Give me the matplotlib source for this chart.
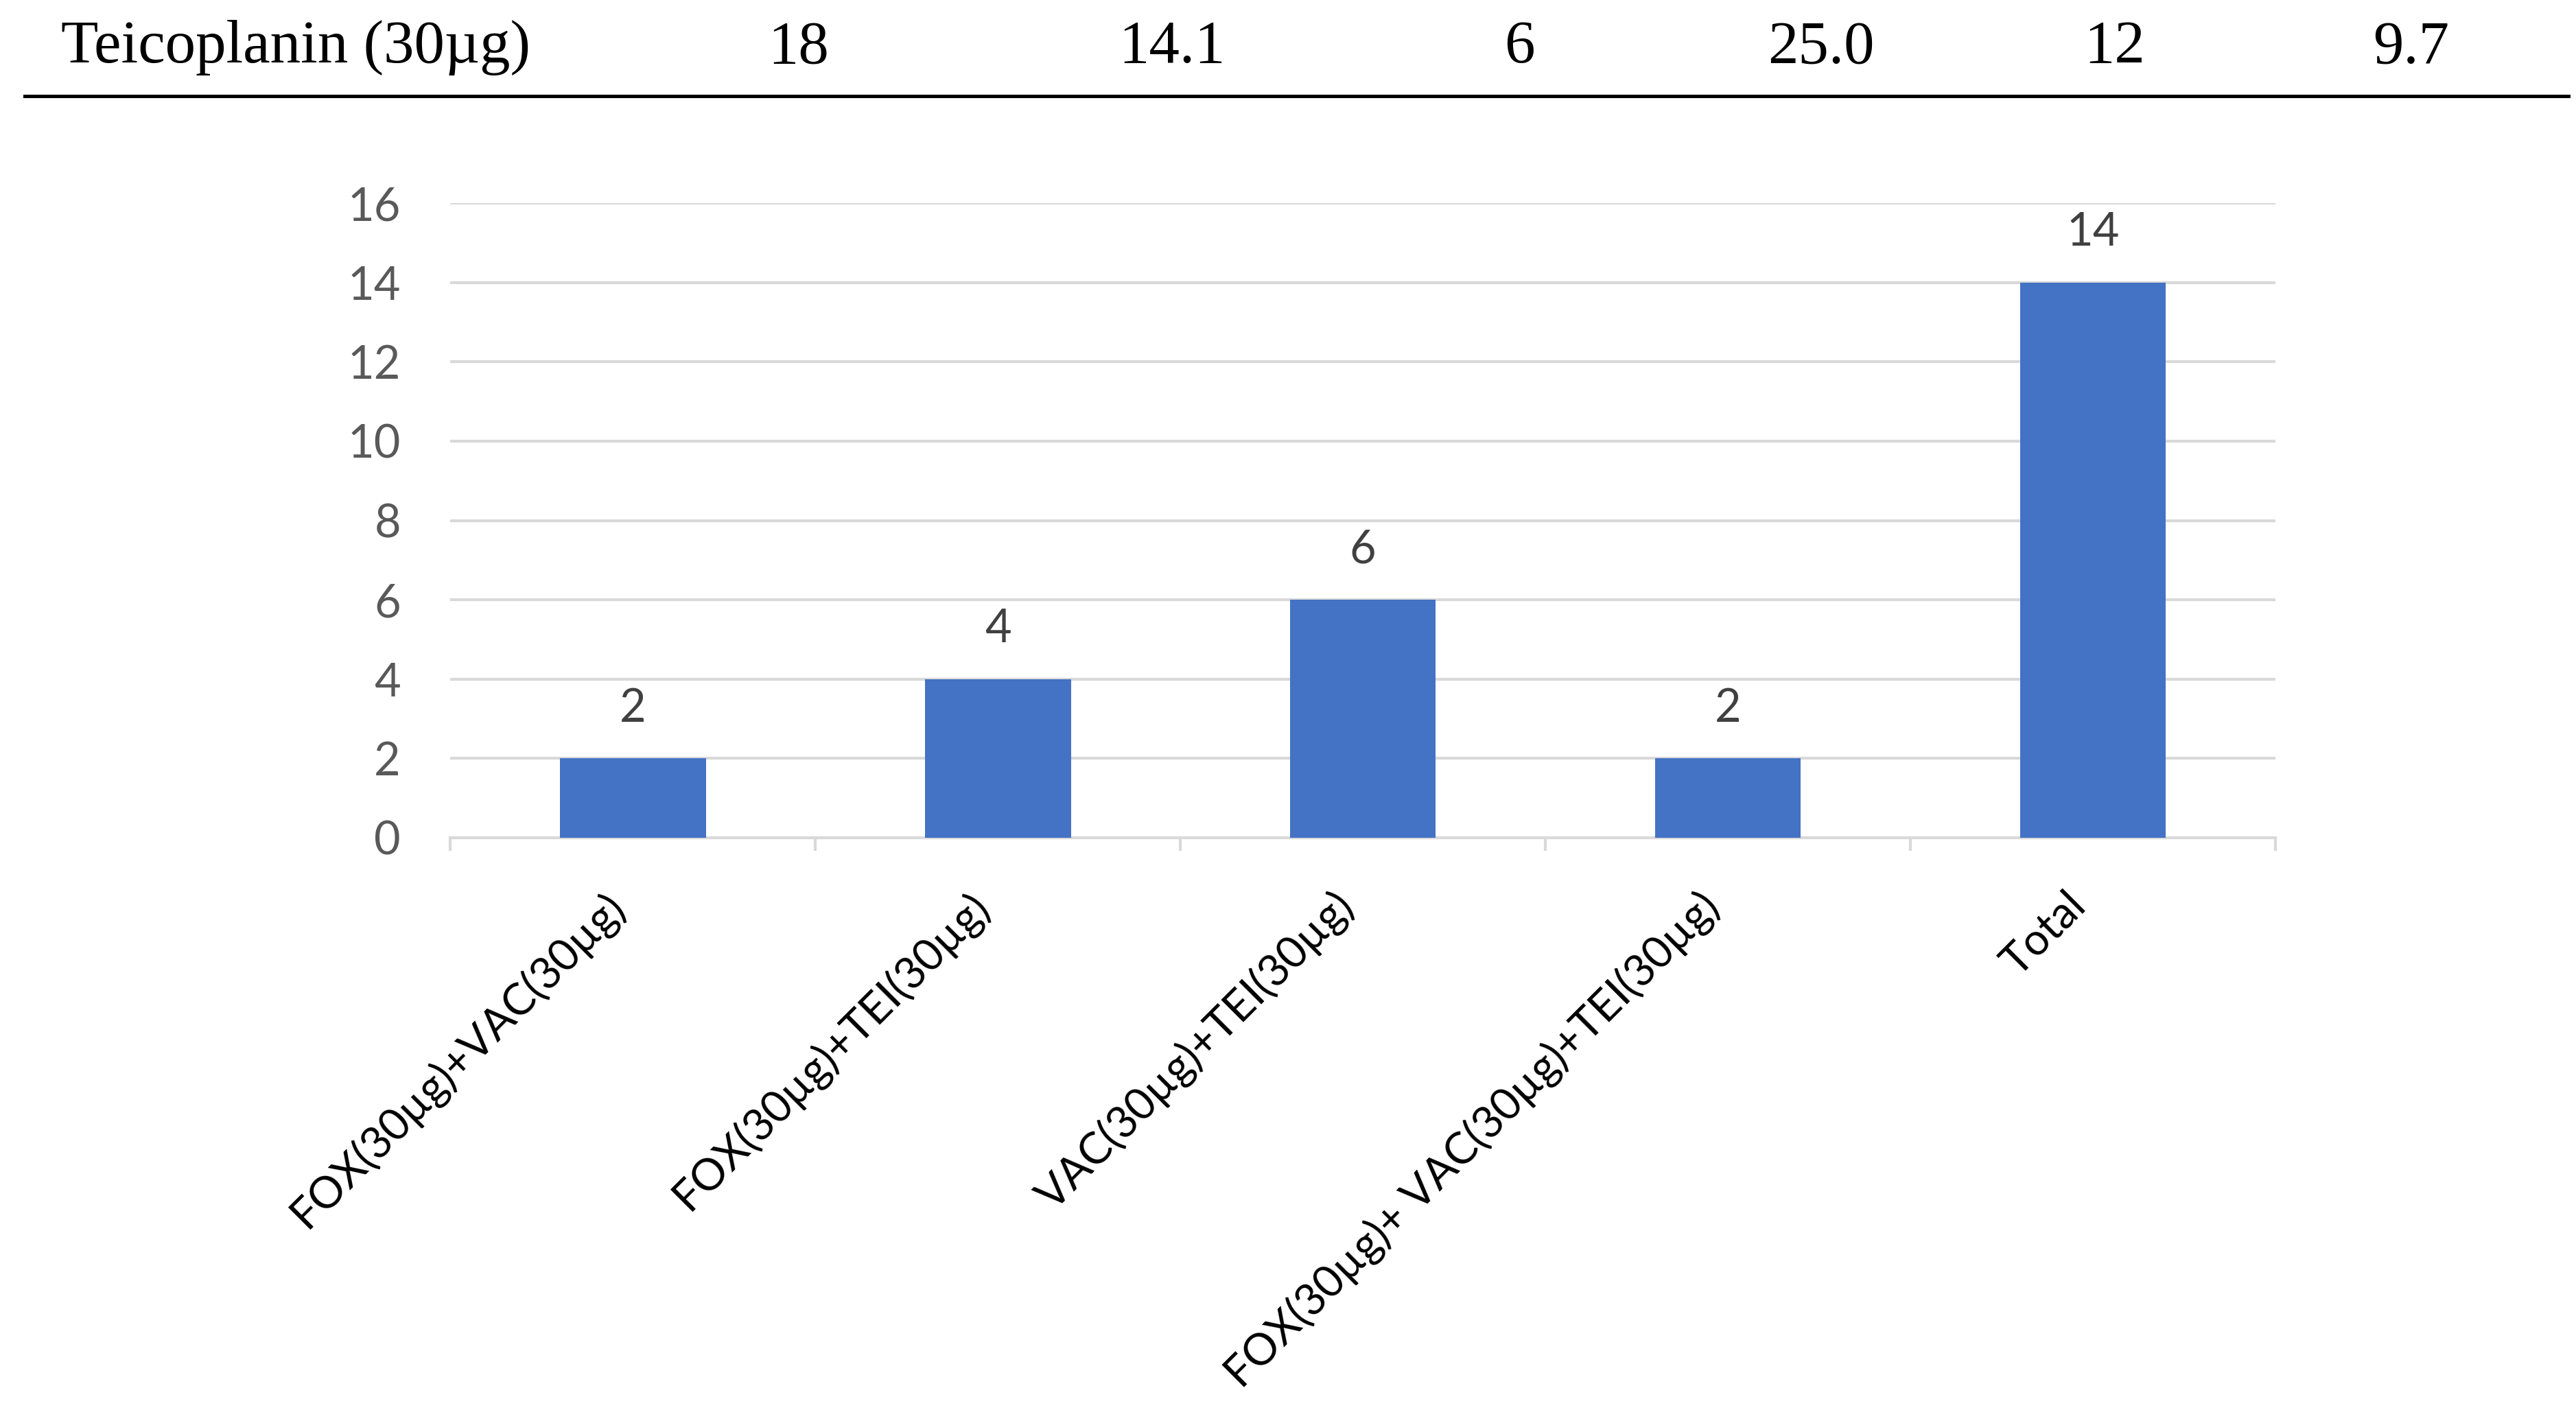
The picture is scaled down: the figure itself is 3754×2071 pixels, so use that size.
import numpy as np
import matplotlib
matplotlib.use('Agg')
import matplotlib.pyplot as plt
from matplotlib.lines import Line2D
from matplotlib.transforms import ScaledTranslation

# table row cut off above the chart
row_label = 'Teicoplanin (30µg)'
row_values = ['18', '14.1', '6', '25.0', '12', '9.7']

# bar chart data
categories = ['FOX(30µg)+VAC(30µg)', 'FOX(30µg)+TEI(30µg)', 'VAC(30µg)+TEI(30µg)',
              'FOX(30µg)+ VAC(30µg)+TEI(30µg)', 'Total']
counts = [2, 4, 6, 2, 14]

plt.rcParams['font.family'] = ['Lato', 'DejaVu Sans']

fig = plt.figure(figsize=(37.54, 20.71), dpi=100)

# table remnant at top
fig.text(0.0237, 0.956, row_label, fontsize=64, family='Liberation Serif',
         ha='left', va='baseline', color='black')
col_x = [0.310, 0.455, 0.590, 0.707, 0.821, 0.936]
for cx, val in zip(col_x, row_values):
    fig.text(cx, 0.956, val, fontsize=64, family='Liberation Serif',
             ha='center', va='baseline', color='black')
fig.add_artist(Line2D([0.0096, 0.997], [0.9326, 0.9326], color='black', lw=3.6))

ax = fig.add_axes([0.1748, 0.4105, 0.7085, 0.4465])
x = np.arange(len(categories))
ax.bar(x, counts, width=0.4, color='#4472C4', zorder=3)

for i, v in enumerate(counts):
    ax.annotate(str(v), (i, v), xytext=(0, 30), textcoords='offset points',
                ha='center', va='bottom', fontsize=48, color='#404040')

ax.set_xlim(-0.5, len(categories) - 0.5)
ax.set_ylim(0, 16)
ax.set_yticks(range(0, 17, 2))
ax.yaxis.grid(True, color='#D9D9D9', lw=3)
ax.set_axisbelow(True)

for s in ['top', 'right', 'left']:
    ax.spines[s].set_visible(False)
ax.spines['bottom'].set_color('#D9D9D9')
ax.spines['bottom'].set_linewidth(3)

ax.tick_params(axis='y', length=0, pad=52, labelsize=48, labelcolor='#595959')
ax.set_xticks(x)
ax.set_xticklabels(categories, rotation=45, ha='right', va='top',
                   fontsize=46, color='black')
# nudge labels a little right, like the original
shift = ScaledTranslation(15 / 72, 0, fig.dpi_scale_trans)
for lbl in ax.get_xticklabels():
    lbl.set_transform(lbl.get_transform() + shift)
ax.tick_params(axis='x', which='major', length=0, pad=50)
ax.set_xticks(np.arange(-0.5, len(categories)), minor=True)
ax.tick_params(axis='x', which='minor', length=14, width=3, color='#D9D9D9')

fig.savefig('out.png', dpi=100)
